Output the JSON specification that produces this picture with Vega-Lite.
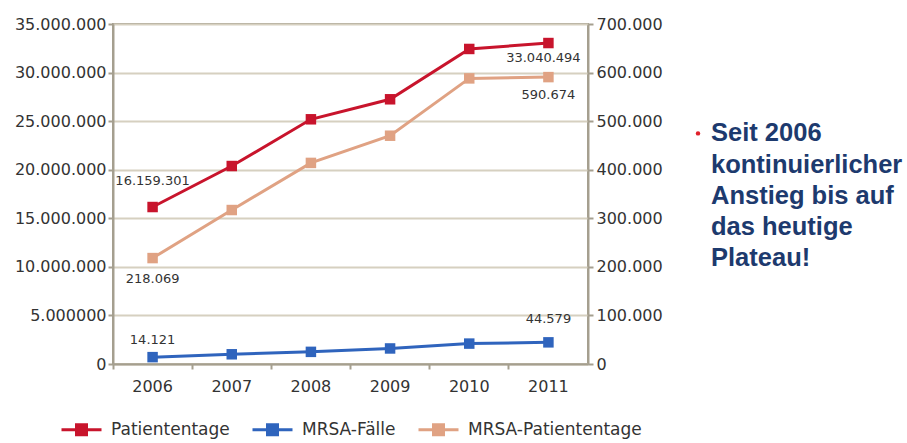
{
  "$schema": "https://vega.github.io/schema/vega-lite/v6.json",
  "background": "white",
  "padding": {"left": 13, "top": 15, "right": 0, "bottom": 0},
  "config": {
    "locale": {"number": {"decimal": ",", "thousands": ".", "grouping": [3], "currency": ["", " €"]}},
    "font": "DejaVu Sans",
    "view": {"stroke": null},
    "concat": {"spacing": 31},
    "legend": {"layout": {"bottom": {"anchor": "middle"}}}
  },
  "datasets": {
    "pt": [
      {"Jahr": "2006", "Serie": "Patiententage", "Wert": 16159301},
      {"Jahr": "2007", "Serie": "Patiententage", "Wert": 20380000},
      {"Jahr": "2008", "Serie": "Patiententage", "Wert": 25190000},
      {"Jahr": "2009", "Serie": "Patiententage", "Wert": 27250000},
      {"Jahr": "2010", "Serie": "Patiententage", "Wert": 32430000},
      {"Jahr": "2011", "Serie": "Patiententage", "Wert": 33040494}
    ],
    "mrsa": [
      {"Jahr": "2006", "Serie": "MRSA-Fälle", "Wert": 14121},
      {"Jahr": "2007", "Serie": "MRSA-Fälle", "Wert": 20000},
      {"Jahr": "2008", "Serie": "MRSA-Fälle", "Wert": 25000},
      {"Jahr": "2009", "Serie": "MRSA-Fälle", "Wert": 32000},
      {"Jahr": "2010", "Serie": "MRSA-Fälle", "Wert": 42000},
      {"Jahr": "2011", "Serie": "MRSA-Fälle", "Wert": 44579},
      {"Jahr": "2006", "Serie": "MRSA-Patiententage", "Wert": 218069},
      {"Jahr": "2007", "Serie": "MRSA-Patiententage", "Wert": 317000},
      {"Jahr": "2008", "Serie": "MRSA-Patiententage", "Wert": 414000},
      {"Jahr": "2009", "Serie": "MRSA-Patiententage", "Wert": 470000},
      {"Jahr": "2010", "Serie": "MRSA-Patiententage", "Wert": 588000},
      {"Jahr": "2011", "Serie": "MRSA-Patiententage", "Wert": 590674}
    ],
    "notiz": [
      {"Zeile": 1, "Text": "Seit 2006"},
      {"Zeile": 2, "Text": "kontinuierlicher"},
      {"Zeile": 3, "Text": "Anstieg bis auf"},
      {"Zeile": 4, "Text": "das heutige"},
      {"Zeile": 5, "Text": "Plateau!"}
    ]
  },
  "hconcat": [
    {
      "width": 475,
      "height": 340,
      "view": {"stroke": "#a59f8f", "strokeWidth": 2},
      "layer": [
        {
          "data": {"name": "pt"},
          "encoding": {
            "x": {
              "field": "Jahr", "type": "ordinal",
              "scale": {"type": "band", "paddingInner": 0, "paddingOuter": 0},
              "axis": {"title": null, "orient": "bottom", "labelAngle": 0, "bandPosition": 0,
                "domainColor": "#a59f8f", "domainWidth": 2, "tickColor": "#a59f8f", "tickWidth": 2, "tickSize": 5,
                "labelFontSize": 16, "labelColor": "#333333", "labelPadding": 9, "grid": false}
            },
            "y": {
              "field": "Wert", "type": "quantitative",
              "scale": {"domain": [0, 35000000], "nice": false},
              "axis": {"title": null, "orient": "left", "values": [0, 5000000, 10000000, 15000000, 20000000, 25000000, 30000000, 35000000],
                "format": ",d", "labelExpr": "datum.value == 5000000 ? '5.000000' : datum.label",
                "domainColor": "#a59f8f", "domainWidth": 2, "tickColor": "#a59f8f", "tickWidth": 2, "tickSize": 5,
                "grid": true, "gridColor": "#d6d0c0", "gridWidth": 2,
                "labelFontSize": 16, "labelColor": "#333333", "labelPadding": 2}
            }
          },
          "layer": [
            {
              "mark": {"type": "line", "strokeWidth": 3, "point": {"shape": "square", "size": 110, "filled": true}},
              "encoding": {
                "color": {
                  "field": "Serie", "type": "nominal",
                  "scale": {"domain": ["Patiententage", "MRSA-Fälle", "MRSA-Patiententage"], "range": ["#c8142c", "#2f64bd", "#e0a283"]},
                  "legend": {
                    "title": null, "orient": "bottom", "direction": "horizontal", "offset": 14,
                    "symbolType": "M-1,0H1M-0.25,-0.25H0.25V0.25H-0.25Z", "symbolSize": 1600, "symbolStrokeWidth": 3,
                    "labelFontSize": 17, "labelColor": "#333333", "labelOffset": 8, "columnPadding": 16, "labelLimit": 400,
                    "encode": {"symbols": {"update": {"fill": {"scale": "color", "field": "value"}, "stroke": {"scale": "color", "field": "value"}, "strokeWidth": {"value": 3}}}}
                  }
                }
              }
            },
            {
              "transform": [{"filter": {"field": "Jahr", "equal": "2006"}}],
              "mark": {"type": "text", "fontSize": 13, "color": "#333333", "dy": -26},
              "encoding": {"text": {"field": "Wert", "type": "quantitative", "format": ",d"}}
            },
            {
              "transform": [{"filter": {"field": "Jahr", "equal": "2011"}}],
              "mark": {"type": "text", "fontSize": 13, "color": "#333333", "dy": 15, "dx": -5},
              "encoding": {"text": {"field": "Wert", "type": "quantitative", "format": ",d"}}
            }
          ]
        },
        {
          "data": {"name": "mrsa"},
          "encoding": {
            "x": {
              "field": "Jahr", "type": "ordinal",
              "scale": {"type": "band", "paddingInner": 0, "paddingOuter": 0},
              "axis": {"title": null, "orient": "bottom", "labelAngle": 0, "bandPosition": 0,
                "domainColor": "#a59f8f", "domainWidth": 2, "tickColor": "#a59f8f", "tickWidth": 2, "tickSize": 5,
                "labelFontSize": 16, "labelColor": "#333333", "labelPadding": 9, "grid": false}
            },
            "y": {
              "field": "Wert", "type": "quantitative",
              "scale": {"domain": [0, 700000], "nice": false},
              "axis": {"title": null, "orient": "right", "values": [0, 100000, 200000, 300000, 400000, 500000, 600000, 700000],
                "format": ",d",
                "domainColor": "#a59f8f", "domainWidth": 2, "tickColor": "#a59f8f", "tickWidth": 2, "tickSize": 5,
                "grid": false, "labelFontSize": 16, "labelColor": "#333333", "labelPadding": 3}
            }
          },
          "layer": [
            {
              "mark": {"type": "line", "strokeWidth": 3, "point": {"shape": "square", "size": 110, "filled": true}},
              "encoding": {
                "color": {"field": "Serie", "type": "nominal"}
              }
            },
            {
              "transform": [{"filter": {"field": "Jahr", "equal": "2006"}}, {"filter": {"field": "Serie", "equal": "MRSA-Patiententage"}}],
              "mark": {"type": "text", "fontSize": 13, "color": "#333333", "dy": 21},
              "encoding": {"text": {"field": "Wert", "type": "quantitative", "format": ",d"}}
            },
            {
              "transform": [{"filter": {"field": "Jahr", "equal": "2011"}}, {"filter": {"field": "Serie", "equal": "MRSA-Patiententage"}}],
              "mark": {"type": "text", "fontSize": 13, "color": "#333333", "dy": 18},
              "encoding": {"text": {"field": "Wert", "type": "quantitative", "format": ",d"}}
            },
            {
              "transform": [{"filter": {"field": "Jahr", "equal": "2006"}}, {"filter": {"field": "Serie", "equal": "MRSA-Fälle"}}],
              "mark": {"type": "text", "fontSize": 13, "color": "#333333", "dy": -17},
              "encoding": {"text": {"field": "Wert", "type": "quantitative", "format": ",d"}}
            },
            {
              "transform": [{"filter": {"field": "Jahr", "equal": "2011"}}, {"filter": {"field": "Serie", "equal": "MRSA-Fälle"}}],
              "mark": {"type": "text", "fontSize": 13, "color": "#333333", "dy": -23},
              "encoding": {"text": {"field": "Wert", "type": "quantitative", "format": ",d"}}
            }
          ]
        }
      ],
      "resolve": {"scale": {"y": "independent"}}
    },
    {
      "width": 190,
      "height": 340,
      "data": {"name": "notiz"},
      "encoding": {
        "y": {"field": "Zeile", "type": "quantitative", "scale": {"domain": [-2.5, 8.38], "reverse": true, "nice": false, "zero": false}, "axis": null}
      },
      "layer": [
        {
          "mark": {"type": "text", "align": "left", "baseline": "middle", "fontSize": 25.5, "fontWeight": "bold", "font": "Liberation Sans", "color": "#1d3a6e"},
          "encoding": {
            "x": {"datum": 13, "type": "quantitative", "scale": {"domain": [0, 190], "nice": false, "zero": false}, "axis": null},
            "text": {"field": "Text", "type": "nominal"}
          }
        },
        {
          "transform": [{"filter": {"field": "Zeile", "equal": 1}}],
          "mark": {"type": "circle", "size": 20, "opacity": 1, "color": "#e0202a"},
          "encoding": {
            "x": {"datum": 0, "type": "quantitative", "scale": {"domain": [0, 190], "nice": false, "zero": false}, "axis": null}
          }
        }
      ]
    }
  ],
  "resolve": {"scale": {"color": "independent"}, "legend": {"color": "independent"}}
}
